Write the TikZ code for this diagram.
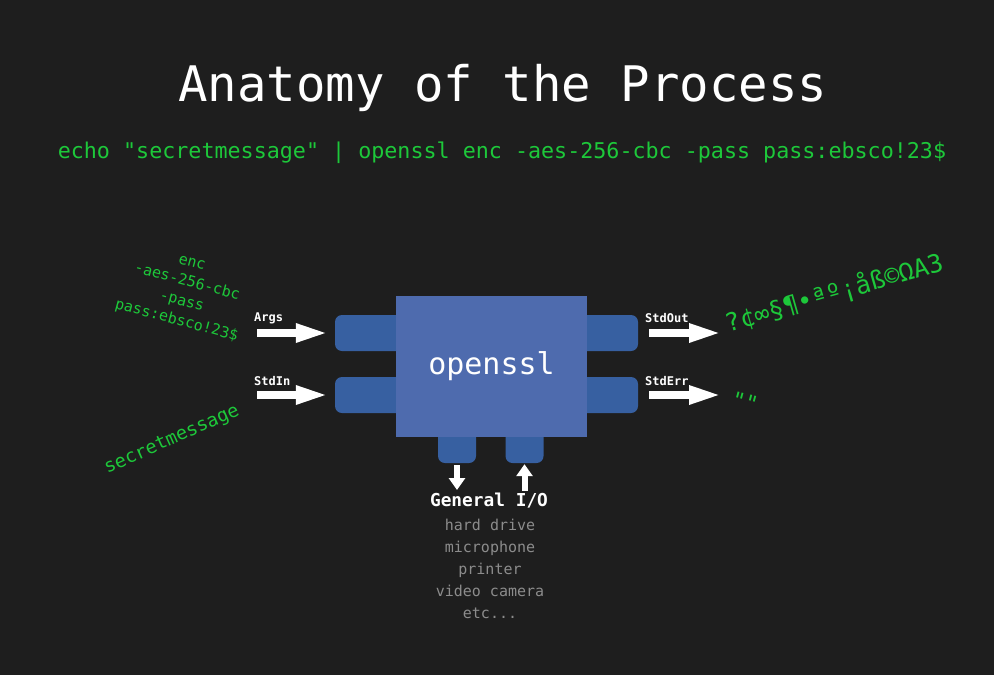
\documentclass[tikz,border=0pt]{standalone}
\usepackage{fontspec}
\setmonofont{DejaVu Sans Mono}
\usetikzlibrary{arrows.meta}
\definecolor{bgdark}{HTML}{1E1E1E}
\definecolor{termgreen}{HTML}{1DC83A}
\definecolor{boxblue}{HTML}{4E6BAE}
\definecolor{portblue}{HTML}{3760A1}
\definecolor{listgray}{HTML}{8C8C8C}
\newcommand{\monosz}[1]{\fontsize{#1}{#1}\selectfont\ttfamily}

\begin{document}
\begin{tikzpicture}[x=1pt,y=-1pt,
    port/.style={fill=portblue,rounded corners=7pt,inner sep=0pt},
    fat/.style={draw=white,line width=8pt,-{Triangle[length=33pt,width=17pt]}},
    slim/.style={draw=white,line width=6pt,-{Triangle[length=12pt,width=16pt]}},
    lbl/.style={text=white,font=\monosz{12}\bfseries,anchor=west,inner sep=0pt}]
    \fill[bgdark] (0,0) rectangle (994,675);
    \node[text=white,font=\monosz{49}] (title) at (503,88) {Anatomy of the Process};
    \node[text=termgreen,font=\monosz{21.7}] (cmd) at (502,153)
      {echo "secretmessage" | openssl enc -aes-256-cbc -pass pass:ebsco!23\$};
    % ports sit under the box
    \node[port,minimum width=80pt,minimum height=36pt] (argsPort) at (375,333) {};
    \node[port,minimum width=80pt,minimum height=36pt] (inPort) at (375,395) {};
    \node[port,minimum width=80pt,minimum height=36pt] (outPort) at (598,333) {};
    \node[port,minimum width=80pt,minimum height=36pt] (errPort) at (598,395) {};
    \node[port,minimum width=38pt,minimum height=38pt] (diskOut) at (457,444) {};
    \node[port,minimum width=38pt,minimum height=38pt] (diskIn) at (524.5,444) {};
    \node[fill=boxblue,minimum width=191pt,minimum height=141pt,inner sep=0pt,
      text=white,font=\monosz{30}] (openssl) at (491.5,366.5) {openssl};
    \coordinate (argsTail) at (257,333);
    \coordinate (inTail) at (257,395);
    \coordinate (outHead) at (722,333);
    \coordinate (errHead) at (722,395);
    \coordinate (diskOutHead) at (457,490);
    \coordinate (diskInTail) at (524.5,491);
    \draw[fat] (argsTail) -- ([xshift=-6pt]argsPort.west);
    \draw[fat] (inTail) -- ([xshift=-6pt]inPort.west);
    \draw[fat] ([xshift=11pt]outPort.east) -- (outHead);
    \draw[fat] ([xshift=11pt]errPort.east) -- (errHead);
    \draw[slim] ([yshift=-2pt]diskOut.south) -- (diskOutHead);
    \draw[slim] (diskInTail) -- ([yshift=-1pt]diskIn.south);
    \node[lbl] (argsLbl) at (254,318) {Args};
    \node[lbl] (inLbl) at (254,381) {StdIn};
    \node[lbl] (outLbl) at (645,318) {StdOut};
    \node[lbl] (errLbl) at (645,381) {StdErr};
    \node[text=termgreen,font=\fontsize{15}{20}\selectfont\ttfamily,align=center,rotate=-15]
      (argList) at (184,293) {enc\\-aes-256-cbc\\-pass\\pass:ebsco!23\$};
    \node[text=termgreen,font=\monosz{18.6},rotate=24] (secret) at (172,440) {secretmessage};
    \node[text=termgreen,font=\monosz{25},rotate=16] (cipher) at (834,293) {?¢∞§¶•ªº¡åß©ΩA3};
    \node[text=termgreen,font=\monosz{22},rotate=-15] (empty) at (745,402) {""};
    \node[text=white,font=\monosz{17.8}\bfseries] (gio) at (489,501) {General I/O};
    \node[text=listgray,font=\fontsize{15}{22}\selectfont\ttfamily,align=center]
      (ioList) at (490,569) {hard drive\\microphone\\printer\\video camera\\etc...};
  \end{tikzpicture}
\end{document}
